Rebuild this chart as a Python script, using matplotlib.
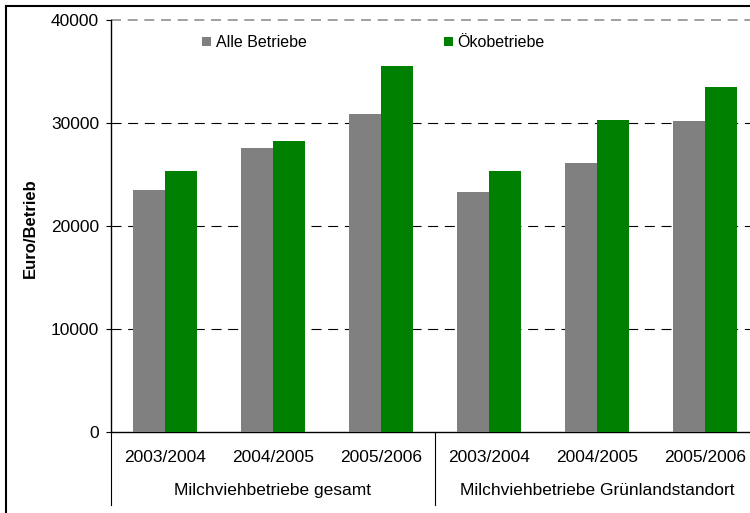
import matplotlib
matplotlib.use("Agg")
import matplotlib.pyplot as plt
from matplotlib.lines import Line2D
import numpy as np

plt.rcParams['font.family'] = ['Liberation Sans', 'DejaVu Sans']

# Einkommen je Betrieb (Euro)
jahre = ["2003/2004", "2004/2005", "2005/2006", "2003/2004", "2004/2005", "2005/2006"]
gruppen = ["Milchviehbetriebe gesamt", "Milchviehbetriebe Grünlandstandort"]
alle_betriebe = [23470, 27540, 30900, 23330, 26090, 30190]
oekobetriebe = [25370, 28250, 35530, 25370, 30320, 33520]
y_ticks = [0, 10000, 20000, 30000, 40000]

W, H = 750, 513
fig = plt.figure(figsize=(W / 100, H / 100), dpi=100)
# plot area runs past the right edge of the figure
ax = fig.add_axes([111 / W, (H - 432) / H, 648 / W, 412 / H])

x = np.arange(len(jahre))
bw = 0.3
ax.bar(x - bw / 2, alle_betriebe, bw, color="#808080", label="Alle Betriebe", zorder=3)
ax.bar(x + bw / 2, oekobetriebe, bw, color="#008000", label="Ökobetriebe", zorder=3)

ax.set_xlim(-0.5, len(jahre) - 0.5)
ax.set_ylim(0, 40000)
ax.set_yticks(y_ticks)
ax.set_yticklabels([str(v) for v in y_ticks], fontsize=12.5)
ax.tick_params(axis="y", direction="out", length=3.6, width=0.8, pad=5)
ax.set_xticks([])

for v in y_ticks[1:-1]:
    ax.axhline(v, color="black", lw=0.8, dashes=(9, 6), zorder=1)
ax.axhline(y_ticks[-1], color="#909090", lw=1.2, dashes=(6, 4), zorder=1, clip_on=False)

for s in ["top", "right"]:
    ax.spines[s].set_visible(False)
ax.spines["left"].set_linewidth(1)
ax.spines["bottom"].set_linewidth(1)

# Kategorienachse mit zwei Ebenen
tr = ax.get_xaxis_transform()
for i, lab in enumerate(jahre):
    ax.text(i, -0.061, lab, transform=tr, ha="center", va="center", fontsize=12.5)
for g, name in enumerate(gruppen):
    ax.text(g * 3 + 1, -0.143, name, transform=tr, ha="center", va="center", fontsize=12.5)
    ax.plot([g * 3 - 0.5] * 2, [0, -0.177], transform=tr, color="black", lw=0.8, clip_on=False)
ax.plot([5.5] * 2, [0, -0.177], transform=tr, color="black", lw=0.8, clip_on=False)

fig.text(30 / W, 1 - 228 / H, "Euro/Betrieb", rotation=90, ha="center", va="center",
         fontsize=12, fontweight="bold")

ax.legend(loc="upper left", bbox_to_anchor=(202 / W, 1 - 35 / H), bbox_transform=fig.transFigure,
          ncol=2, frameon=False, fontsize=11.5, handlelength=0.55, handleheight=0.55,
          handletextpad=0.3, columnspacing=8.6, borderpad=0, borderaxespad=0)

# Rahmen um die Grafik
fig.add_artist(Line2D([6 / W, 1], [1 - 6 / H] * 2, color="black", lw=1.5))
fig.add_artist(Line2D([6 / W] * 2, [0, 1 - 6 / H], color="black", lw=1.5))

fig.savefig("out.png", dpi=100)
